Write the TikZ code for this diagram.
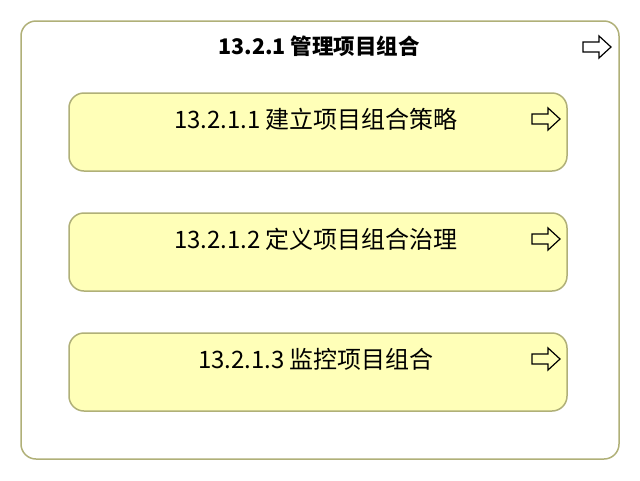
\documentclass[tikz,border=0pt]{standalone}
\usepackage{fontspec}
\setmainfont{Noto Sans CJK SC}
\definecolor{bordc}{HTML}{B0B078}
\definecolor{fillc}{HTML}{FFFFB8}
\usetikzlibrary{calc}
\tikzset{
  x=1pt,y=-1pt,
  outerbox/.style={draw=bordc,line width=1.5pt,rounded corners=15pt,fill=white},
  innerbox/.style={draw=bordc,line width=1.5pt,rounded corners=15pt,fill=fillc},
  boxtitle/.style={font=\fontsize{21.5}{24}\selectfont\bfseries,anchor=center},
  itemtitle/.style={font=\fontsize{24}{28}\selectfont,anchor=center},
}
\newcommand{\blockarrow}[1]{%
  \draw[black,line width=1.2pt,line join=miter] ($(#1)+(-14,-5)$) -- ++(16,0) -- ++(0,-6) -- ++(12,11) -- ++(-12,11) -- ++(0,-6) -- ++(-16,0) -- cycle;}
\begin{document}
\begin{tikzpicture}
\useasboundingbox (0,0) rectangle (640,480);
\fill[white] (0,0) rectangle (640,480);
\draw[outerbox] (21,21) rectangle (619,459);
\node[boxtitle] (t0) at (319,46) {13.2.1 管理项目组合};
\coordinate (a0) at (597,47);
\blockarrow{a0}
\foreach \i/\y/\txt in {1/93/13.2.1.1 建立项目组合策略,2/213/13.2.1.2 定义项目组合治理,3/333/13.2.1.3 监控项目组合}{
  \draw[innerbox] (69,\y) rectangle (567,\y+78);
  \node[itemtitle] (t\i) at (316,\y+26) {\txt};
  \coordinate (a\i) at (546,\y+26);
  \blockarrow{a\i}
}
\end{tikzpicture}
\end{document}
